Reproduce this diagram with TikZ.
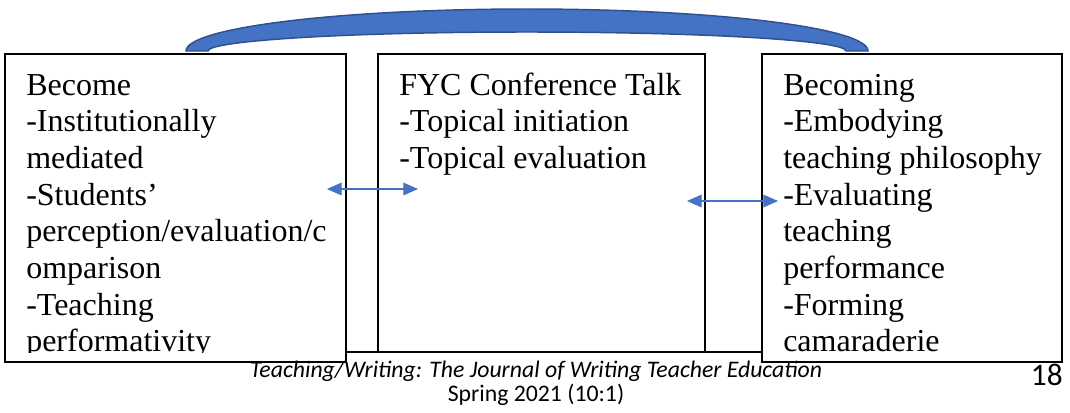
\documentclass[tikz,border=0pt]{standalone}
\usepackage{fontspec}
\setmainfont{Liberation Serif}
\newfontfamily\footfont{Carlito}
\usetikzlibrary{arrows.meta}
\definecolor{arcblue}{HTML}{4472C4}
\definecolor{arcedge}{HTML}{2F528F}
% a top-aligned block of lines whose baseline is that of its first line
\newcommand{\linestack}[1]{\parbox[t]{280pt}{\raggedright\fontsize{24}{27.5}\selectfont #1}}
\tikzset{
  box/.style={draw=black, line width=0.9pt, fill=white},
  boxtext/.style={anchor=base west, inner sep=0pt},
  link/.style={draw=arcblue, line width=0.8pt,
    {Triangle[length=11pt,width=9.5pt]}-{Triangle[length=11pt,width=9.5pt]}},
  foot/.style={inner sep=0pt, anchor=base}
}
\begin{document}
\begin{tikzpicture}[x=0.75pt, y=-0.75pt]
\useasboundingbox (0,0) rectangle (1070,412);

% footer rule running behind the boxes
\coordinate (ruleL) at (4,352);
\coordinate (ruleR) at (1060,352);
\draw[line width=1pt] (ruleL) -- (ruleR);

% curved band joining the two outer boxes
\filldraw[fill=arcblue, draw=arcedge, line width=1.1pt]
  (186,51) arc[start angle=180, end angle=360, x radius=341, y radius=42]
  -- (846,51) arc[start angle=0, end angle=-180, x radius=319, y radius=19]
  -- cycle;

% the three boxes
\draw[box] (5,54) rectangle (346,362);
\draw[box] (378,54) rectangle (705,352);
\draw[box] (762,54) rectangle (1062,362);

\begin{scope}
  \clip (5,54) rectangle (346,352);
  \node[boxtext] (become) at (26,95) {\linestack{Become\\-Institutionally\\mediated\\-Students’\\perception/evaluation/c\\omparison\\-Teaching\\performativity}};
\end{scope}
\node[boxtext] (talk) at (399,95) {\linestack{FYC Conference Talk\\-Topical initiation\\-Topical evaluation}};
\node[boxtext] (becoming) at (783,95) {\linestack{Becoming\\-Embodying\\teaching philosophy\\-Evaluating\\teaching\\performance\\-Forming\\camaraderie}};

% two-way links between the boxes
\coordinate (l1) at (327,189);
\coordinate (r1) at (418,189);
\coordinate (l2) at (687,201);
\coordinate (r2) at (778,201);
\draw[link] (l1) -- (r1);
\draw[link] (l2) -- (r2);

% footer
\node[foot, font=\footfont\fontsize{17.8}{20}\selectfont] (journal) at (536,377) {\itshape Teaching/Writing: The Journal of Writing Teacher Education};
\node[foot, font=\footfont\fontsize{17.8}{20}\selectfont] (issue) at (536,401) {Spring 2021 (10:1)};
\node[inner sep=0pt, anchor=base east, font=\footfont\fontsize{23.5}{26}\selectfont] (page) at (1063,385) {18};
\end{tikzpicture}
\end{document}
